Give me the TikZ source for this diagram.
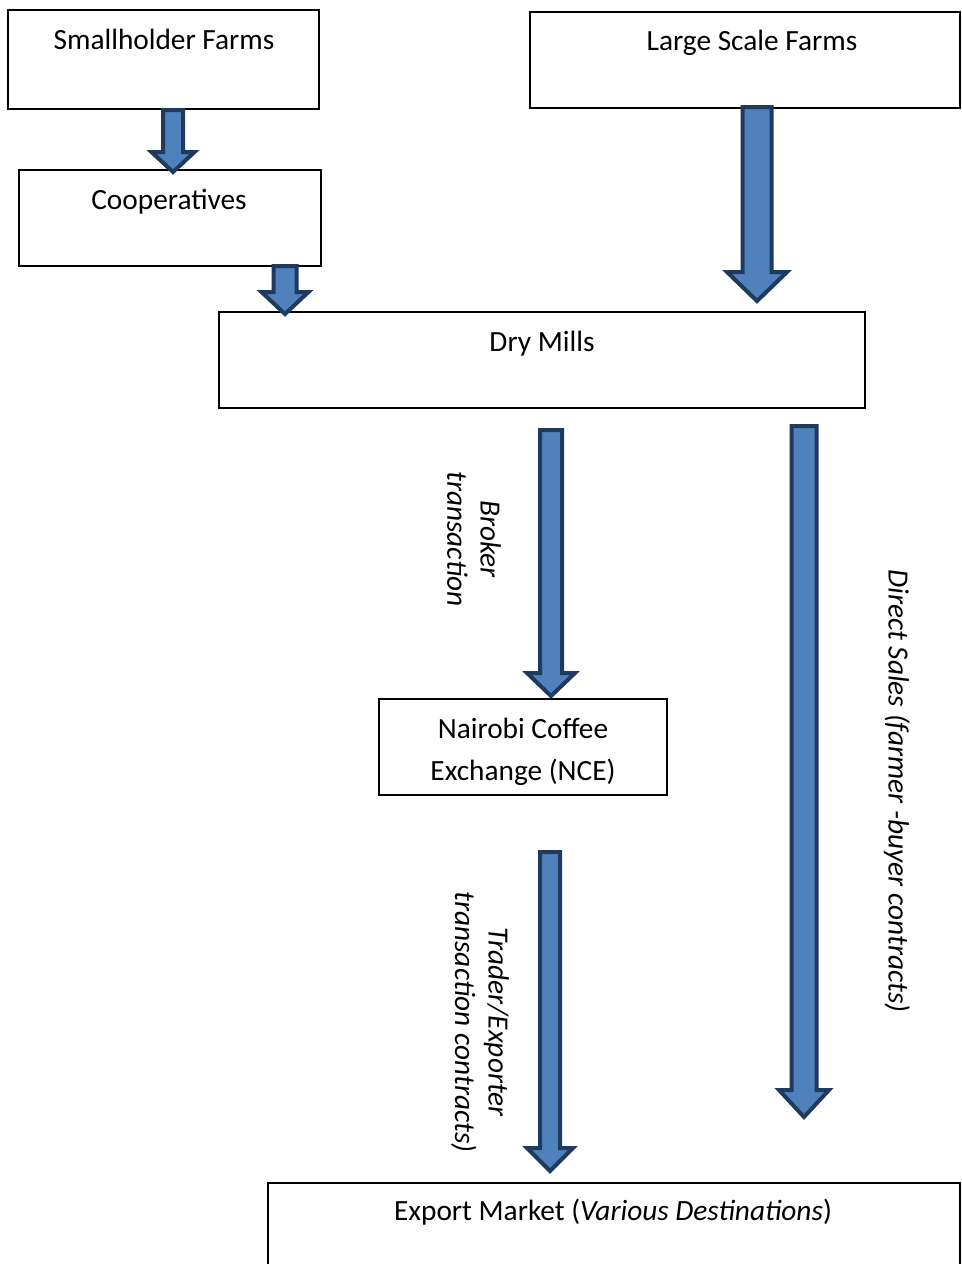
\documentclass[tikz,border=0pt]{standalone}
\usepackage{fontspec}
\setmainfont{Carlito}
\definecolor{arrfill}{HTML}{4F81BD}
\definecolor{arrdraw}{HTML}{1F3A5C}
\newcommand\barrow[6]{%
  \draw[blockarr] (#1-#4,#2) -- (#1+#4,#2) -- (#1+#4,#3-#6) -- (#1+#5,#3-#6) -- (#1,#3) -- (#1-#5,#3-#6) -- (#1-#4,#3-#6) -- cycle;}
\begin{document}
\begin{tikzpicture}[x=0.75pt,y=-0.75pt,
  box/.style={draw=black,line width=1.1pt,inner sep=0pt},
  txt/.style={anchor=base,inner sep=0pt,font=\fontsize{22}{31.5}\selectfont},
  lab/.style={rotate=-90,align=center,inner sep=0pt,font=\fontsize{22}{25}\selectfont\itshape},
  blockarr/.style={fill=arrfill,draw=arrdraw,line width=3pt,line join=miter}]
\clip (0,0) rectangle (962,1264);
\fill[white] (0,0) rectangle (962,1264);
% boxes
\node[box,minimum width=311*0.75pt,minimum height=99*0.75pt] (small) at (163.5,59.5) {};
\node[box,minimum width=430*0.75pt,minimum height=96*0.75pt] (large) at (745,60) {};
\node[box,minimum width=302*0.75pt,minimum height=96*0.75pt] (coop) at (170,218) {};
\node[box,minimum width=646*0.75pt,minimum height=96*0.75pt] (dry) at (542,360) {};
\node[box,minimum width=288*0.75pt,minimum height=96*0.75pt] (nce) at (523,747) {};
\node[box,minimum width=692*0.75pt,minimum height=110*0.75pt] (exp) at (614,1238) {};
% texts
\node[txt] (smallt) at (164,49) {Smallholder Farms};
\node[txt] (larget) at (752,50) {Large Scale Farms};
\node[txt] (coopt) at (169,209) {Cooperatives};
\node[txt] (dryt) at (542,351) {Dry Mills};
\node[txt] (ncet1) at (523,738) {Nairobi Coffee};
\node[txt] (ncet2) at (523,780) {Exchange (NCE)};
\node[txt] (expt) at (613,1220) {Export Market (\textit{Various Destinations})};
% arrows
\barrow{173}{110}{172}{10}{21.5}{20}
\barrow{285}{266}{314}{11.5}{23.5}{22}
\barrow{757}{107}{301}{14.5}{30}{29}
\barrow{551}{430}{696}{11}{24}{23}
\barrow{804}{426}{1117}{12.5}{25}{27}
\barrow{550}{852}{1171}{10}{23}{23}
% labels
\node[lab] (brok) at (474,539) {Broker\\transaction};
\node[lab] (trad) at (480,1022) {Trader/Exporter\\transaction contracts)};
\node[lab] (dirs) at (897,791) {Direct Sales (farmer -buyer contracts)};
\end{tikzpicture}
\end{document}
